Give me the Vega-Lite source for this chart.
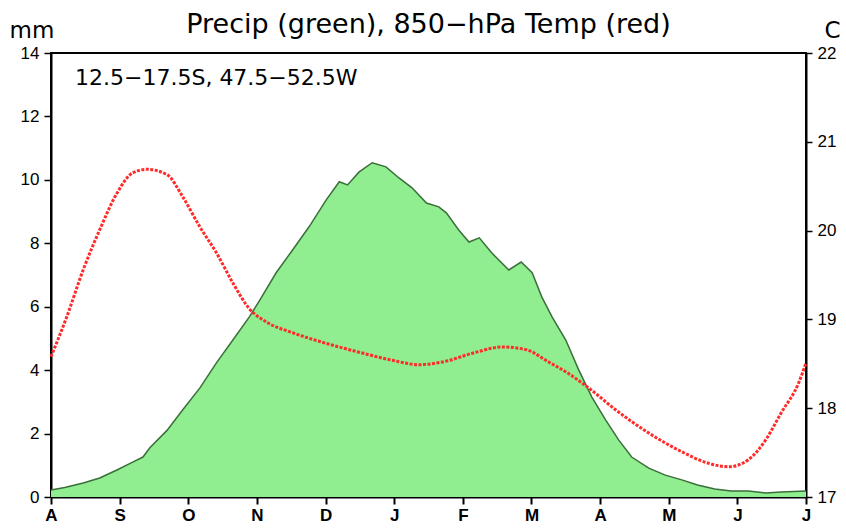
{
  "$schema": "https://vega.github.io/schema/vega-lite/v6.json",
  "width": 755,
  "height": 444,
  "autosize": {"type": "none"},
  "padding": {"left": 51, "top": 53, "right": 40, "bottom": 34},
  "background": "white",
  "config": {
    "view": {"stroke": "black", "strokeWidth": 2},
    "font": "DejaVu Sans"
  },
  "title": {
    "text": "Precip (green), 850−hPa Temp (red)",
    "fontSize": 27,
    "fontWeight": "normal",
    "font": "DejaVu Sans",
    "color": "black",
    "anchor": "middle",
    "frame": "group",
    "offset": -20
  },
  "datasets": {
    "precip": [
      {"m": 0.0, "p": 0.22}, {"m": 0.2, "p": 0.3}, {"m": 0.47, "p": 0.44}, {"m": 0.71, "p": 0.6},
      {"m": 0.96, "p": 0.85}, {"m": 1.19, "p": 1.1}, {"m": 1.34, "p": 1.26}, {"m": 1.44, "p": 1.55},
      {"m": 1.69, "p": 2.1}, {"m": 1.92, "p": 2.75}, {"m": 2.17, "p": 3.44}, {"m": 2.41, "p": 4.23},
      {"m": 2.65, "p": 4.95}, {"m": 2.89, "p": 5.68}, {"m": 3.04, "p": 6.2}, {"m": 3.28, "p": 7.07},
      {"m": 3.52, "p": 7.79}, {"m": 3.76, "p": 8.52}, {"m": 4.01, "p": 9.37}, {"m": 4.2, "p": 9.94},
      {"m": 4.32, "p": 9.84}, {"m": 4.49, "p": 10.25}, {"m": 4.68, "p": 10.54}, {"m": 4.88, "p": 10.41},
      {"m": 5.07, "p": 10.06}, {"m": 5.26, "p": 9.75}, {"m": 5.47, "p": 9.27}, {"m": 5.65, "p": 9.15},
      {"m": 5.76, "p": 8.96}, {"m": 5.94, "p": 8.42}, {"m": 6.09, "p": 8.04}, {"m": 6.24, "p": 8.17},
      {"m": 6.42, "p": 7.7}, {"m": 6.67, "p": 7.16}, {"m": 6.85, "p": 7.41}, {"m": 7.01, "p": 7.07},
      {"m": 7.15, "p": 6.31}, {"m": 7.3, "p": 5.68}, {"m": 7.5, "p": 4.95}, {"m": 7.69, "p": 4.0},
      {"m": 7.88, "p": 3.15}, {"m": 8.08, "p": 2.43}, {"m": 8.27, "p": 1.8}, {"m": 8.46, "p": 1.26},
      {"m": 8.71, "p": 0.91}, {"m": 8.95, "p": 0.69}, {"m": 9.19, "p": 0.54}, {"m": 9.42, "p": 0.38},
      {"m": 9.67, "p": 0.25}, {"m": 9.91, "p": 0.19}, {"m": 10.16, "p": 0.19}, {"m": 10.41, "p": 0.13},
      {"m": 10.64, "p": 0.16}, {"m": 11.0, "p": 0.19}
    ],
    "temp": [
      {"m": 0.0, "t": 18.58}, {"m": 0.23, "t": 19.03}, {"m": 0.47, "t": 19.56}, {"m": 0.71, "t": 20.01},
      {"m": 0.96, "t": 20.42}, {"m": 1.19, "t": 20.65}, {"m": 1.4, "t": 20.69}, {"m": 1.69, "t": 20.63},
      {"m": 1.92, "t": 20.38}, {"m": 2.17, "t": 20.04}, {"m": 2.41, "t": 19.75}, {"m": 2.65, "t": 19.41},
      {"m": 2.89, "t": 19.12}, {"m": 3.14, "t": 18.97}, {"m": 3.52, "t": 18.85}, {"m": 4.01, "t": 18.73},
      {"m": 4.49, "t": 18.63}, {"m": 4.97, "t": 18.54}, {"m": 5.36, "t": 18.49}, {"m": 5.7, "t": 18.52},
      {"m": 6.19, "t": 18.63}, {"m": 6.57, "t": 18.69}, {"m": 6.92, "t": 18.66}, {"m": 7.25, "t": 18.52},
      {"m": 7.5, "t": 18.41}, {"m": 7.83, "t": 18.23}, {"m": 8.23, "t": 17.98}, {"m": 8.71, "t": 17.72},
      {"m": 9.19, "t": 17.51}, {"m": 9.58, "t": 17.38}, {"m": 9.87, "t": 17.34}, {"m": 10.16, "t": 17.42},
      {"m": 10.41, "t": 17.64}, {"m": 10.64, "t": 17.95}, {"m": 10.89, "t": 18.28}, {"m": 11.0, "t": 18.51}
    ],
    "label": [{"m": 0.35, "p": 13.0, "text": "12.5−17.5S, 47.5−52.5W"}]
  },
  "layer": [
    {
      "data": {"name": "precip"},
      "mark": {"type": "area", "color": "#90EE90", "opacity": 1, "line": {"color": "#3a6e3a", "strokeWidth": 1.5}},
      "encoding": {
        "x": {
          "field": "m", "type": "quantitative",
          "scale": {"domain": [0, 11], "nice": false, "zero": false},
          "axis": {
            "values": [0, 1, 2, 3, 4, 5, 6, 7, 8, 9, 10, 11],
            "labelExpr": "['A','S','O','N','D','J','F','M','A','M','J','J'][datum.value]",
            "title": null, "grid": false,
            "domainColor": "black", "domainWidth": 2,
            "tickColor": "black", "tickWidth": 2, "tickSize": 7,
            "labelFont": "Liberation Sans", "labelFontWeight": "bold", "labelFontSize": 17,
            "labelColor": "black", "labelPadding": 3, "labelFlush": false
          }
        },
        "y": {
          "field": "p", "type": "quantitative",
          "scale": {"domain": [0, 14], "nice": false},
          "axis": {
            "values": [0, 2, 4, 6, 8, 10, 12, 14],
            "title": "mm", "titleAngle": 0, "titleX": -42, "titleY": -16,
            "titleAlign": "left", "titleBaseline": "alphabetic",
            "titleFont": "DejaVu Sans", "titleFontSize": 23, "titleFontWeight": "normal", "titleColor": "black",
            "grid": false,
            "domainColor": "black", "domainWidth": 2,
            "tickColor": "black", "tickWidth": 1.5, "tickSize": 7,
            "labelFont": "Liberation Sans", "labelFontSize": 17, "labelColor": "black", "labelPadding": 5
          }
        }
      }
    },
    {
      "data": {"name": "label"},
      "mark": {"type": "text", "align": "left", "baseline": "alphabetic", "fontSize": 22, "font": "DejaVu Sans", "color": "black"},
      "encoding": {
        "x": {"field": "m", "type": "quantitative"},
        "y": {"field": "p", "type": "quantitative", "scale": {"domain": [0, 14], "nice": false}, "axis": null},
        "text": {"field": "text"}
      }
    },
    {
      "data": {"name": "temp"},
      "mark": {"type": "line", "color": "#ff2a2a", "strokeWidth": 3, "strokeDash": [3, 1.5], "interpolate": "monotone"},
      "encoding": {
        "x": {"field": "m", "type": "quantitative"},
        "y": {
          "field": "t", "type": "quantitative",
          "scale": {"domain": [17, 22], "nice": false, "zero": false},
          "axis": {
            "orient": "right",
            "values": [17, 18, 19, 20, 21, 22],
            "title": "C", "titleAngle": 0, "titleX": 18, "titleY": -16,
            "titleAlign": "left", "titleBaseline": "alphabetic",
            "titleFont": "DejaVu Sans", "titleFontSize": 23, "titleFontWeight": "normal", "titleColor": "black",
            "grid": false,
            "domainColor": "black", "domainWidth": 2,
            "tickColor": "black", "tickWidth": 1.5, "tickSize": 6,
            "labelFont": "Liberation Sans", "labelFontSize": 17, "labelColor": "black", "labelPadding": 5
          }
        }
      }
    }
  ],
  "resolve": {"scale": {"y": "independent"}}
}
